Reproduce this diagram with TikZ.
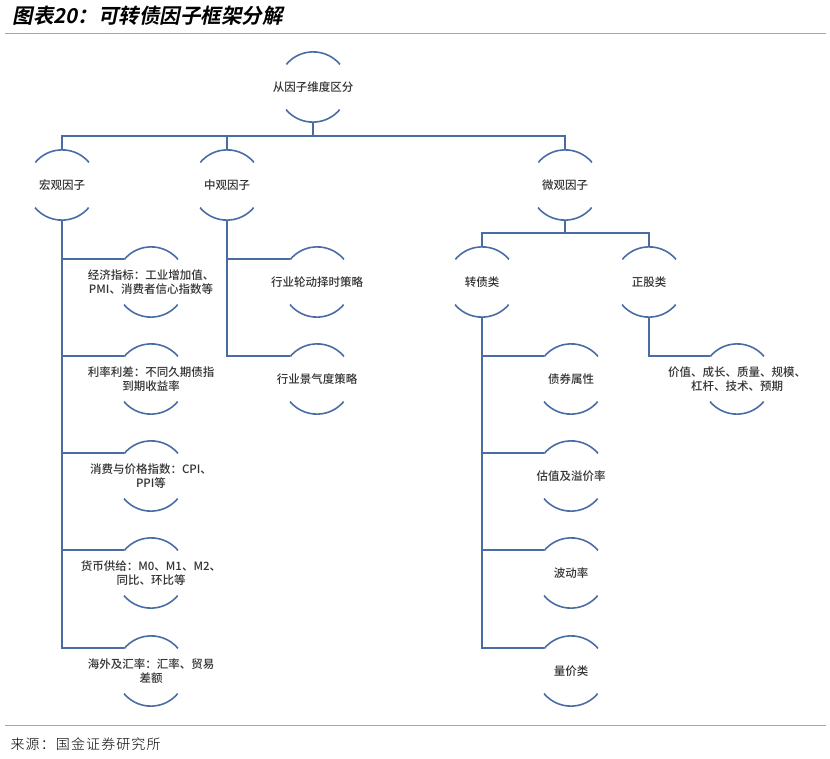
\documentclass[tikz,border=0pt]{standalone}
\usepackage{fontspec}
\usepackage{xcolor}
\usepackage{tikz}
\setmainfont{Noto Sans CJK SC}
\newfontfamily\titlefont{Noto Sans CJK SC Bold}[FakeSlant=0.2]
\newfontfamily\srcfont{Noto Sans CJK SC Light}[LetterSpace=8]
\newfontfamily\boxfont{Noto Sans CJK SC Medium}

\definecolor{linkblue}{HTML}{4A6CA5}
\definecolor{rulecol}{HTML}{8AAECB}

\tikzset{
  link/.style={draw=linkblue, line width=1.8pt},
  arcline/.style={draw=linkblue, line width=1.6pt},
  hc/.style={circle, minimum size=70pt, inner sep=0pt},
  lbl/.style={align=center, text=black!80, font=\boxfont\fontsize{11.5}{13.5}\selectfont}
}

\begin{document}
\begin{tikzpicture}[x=1pt, y=1pt]
\useasboundingbox (0,0) rectangle (830,-758);
\node[anchor=west, font=\titlefont\fontsize{20.5}{22}\selectfont] (title) at (9,-16) {图表20：可转债因子框架分解};
\draw[rulecol, line width=1pt] (5,-33)--(826,-33);
\draw[rulecol, line width=1pt] (5,-725)--(826,-725);
\node[anchor=west, font=\srcfont\fontsize{14}{16}\selectfont] (src) at (7,-744) {来源：国金证券研究所};

% top levels
\node[hc, label={[lbl]center:从因子维度区分}] (root) at (313,-87) {};
\node[hc, label={[lbl]center:宏观因子}] (macro) at (62,-185) {};
\node[hc, label={[lbl]center:中观因子}] (meso) at (227,-185) {};
\node[hc, label={[lbl]center:微观因子}] (micro) at (565,-185) {};
\node[hc, label={[lbl]center:转债类}] (cb) at (482,-282) {};
\node[hc, label={[lbl]center:正股类}] (stk) at (649,-282) {};

% macro leaves
\node[hc, label={[lbl]center:经济指标：工业增加值、\\PMI、消费者信心指数等}] (ma) at (151,-282) {};
\node[hc, label={[lbl]center:利率利差：不同久期债指\\到期收益率}] (mb) at (151,-379) {};
\node[hc, label={[lbl]center:消费与价格指数：CPI、\\PPI等}] (mc) at (151,-476) {};
\node[hc, label={[lbl]center:货币供给：M0、M1、M2、\\同比、环比等}] (md) at (151,-573) {};
\node[hc, label={[lbl]center:海外及汇率：汇率、贸易\\差额}] (me) at (151,-671) {};

% meso leaves
\node[hc, label={[lbl]center:行业轮动择时策略}] (sa) at (317,-282) {};
\node[hc, label={[lbl]center:行业景气度策略}] (sb) at (317,-379) {};

% micro leaves
\node[hc, label={[lbl]center:债券属性}] (ca) at (571,-379) {};
\node[hc, label={[lbl]center:估值及溢价率}] (cbv) at (571,-476) {};
\node[hc, label={[lbl]center:波动率}] (cc) at (571,-573) {};
\node[hc, label={[lbl]center:量价类}] (cd) at (571,-671) {};
\node[hc, label={[lbl]center:价值、成长、质量、规模、\\杠杆、技术、预期}] (sk) at (737,-379) {};

\foreach \n in {root,macro,meso,micro,cb,stk,ma,mb,mc,md,me,sa,sb,ca,cbv,cc,cd,sk}
  \draw[arcline] (\n.40) arc[start angle=40, end angle=140, radius=35pt]
                 (\n.220) arc[start angle=220, end angle=320, radius=35pt];

% connectors
\coordinate (bus) at (313,-136);
\draw[link] (root.south)--(bus);
\draw[link] (macro.north) |- (bus) -| (micro.north);
\draw[link] (meso.north)--(meso.north |- bus);
\coordinate (subbus) at (565,-233);
\draw[link] (micro.south)--(subbus);
\draw[link] (cb.north) |- (subbus) -| (stk.north);

\foreach \l in {ma,mb,mc,md,me} \draw[link] (macro.south) |- (\l.140);
\foreach \l in {sa,sb} \draw[link] (meso.south) |- (\l.140);
\foreach \l in {ca,cbv,cc,cd} \draw[link] (cb.south) |- (\l.140);
\draw[link] (stk.south) |- (sk.140);
\end{tikzpicture}
\end{document}
